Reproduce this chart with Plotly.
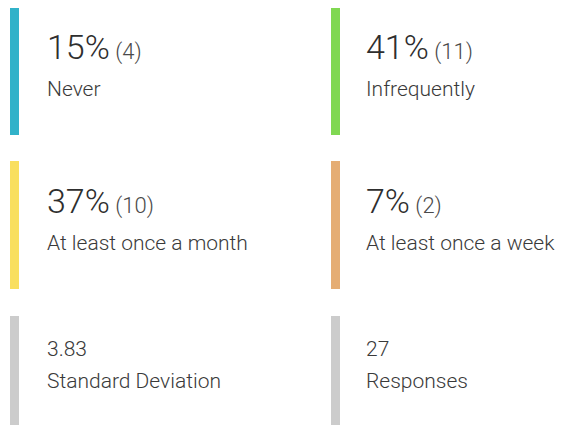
import plotly.graph_objects as go

# ---- data ----
categories = ["Never", "Infrequently", "At least once a month", "At least once a week"]
percents = [15, 41, 37, 7]
counts = [4, 11, 10, 2]
colors = ["#31b2c9", "#80d852", "#f9df5e", "#e5ad74"]
stat_labels = ["Standard Deviation", "Responses"]
stat_values = ["3.83", "27"]
stat_color = "#cccccc"

# figure fits inside the 566x425 window with the page's 8px body margin
W, H = 558, 417
col_x = [2, 323]
row_top = [-1, 153, 308]
row_h = [128, 128, 112]
bar_w = 9
text_dx = [35, 33]
FONT = "Roboto"
LABEL_SIZE = 21

fig = go.Figure()
shapes = []
annotations = []

def card(i_col, i_row, color):
    x0 = col_x[i_col]
    y0 = row_top[i_row]
    shapes.append(dict(type="rect", xref="x", yref="y", x0=x0, x1=x0 + bar_w,
                       y0=y0, y1=y0 + row_h[i_row], fillcolor=color, line=dict(width=0),
                       layer="below"))

for i, (cat, p, c, col) in enumerate(zip(categories, percents, counts, colors)):
    ci, ri = i % 2, i // 2
    card(ci, ri, col)
    x = col_x[ci] + text_dx[ci]
    y0 = row_top[ri]
    annotations.append(dict(
        x=x, y=y0 + 40, xref="x", yref="y", xanchor="left", yanchor="middle",
        text=f"{p}%<span style='font-size:22px;color:#4a4a4a'> ({c})</span>",
        showarrow=False, font=dict(family=FONT, size=34, color="#2e2e2e", weight=300)))
    annotations.append(dict(
        x=x, y=y0 + 82, xref="x", yref="y", xanchor="left", yanchor="middle",
        text=cat, showarrow=False,
        font=dict(family=FONT, size=LABEL_SIZE, color="#3a3a3a", weight=300)))

for j, (lab, val) in enumerate(zip(stat_labels, stat_values)):
    card(j, 2, stat_color)
    x = col_x[j] + text_dx[j]
    y0 = row_top[2]
    annotations.append(dict(
        x=x, y=y0 + 33, xref="x", yref="y", xanchor="left", yanchor="middle",
        text=val, showarrow=False,
        font=dict(family=FONT, size=LABEL_SIZE, color="#3a3a3a", weight=300)))
    annotations.append(dict(
        x=x, y=y0 + 65, xref="x", yref="y", xanchor="left", yanchor="middle",
        text=lab, showarrow=False,
        font=dict(family=FONT, size=LABEL_SIZE, color="#3a3a3a", weight=300)))

fig.update_layout(
    width=W, height=H,
    margin=dict(l=0, r=0, t=0, b=0),
    paper_bgcolor="white", plot_bgcolor="white",
    xaxis=dict(range=[0, W], visible=False, fixedrange=True),
    yaxis=dict(range=[H, 0], visible=False, fixedrange=True),
    shapes=shapes, annotations=annotations, showlegend=False,
)
fig.write_html(
    "out.html",
    post_script="document.documentElement.style.overflow='hidden';document.body.style.overflow='hidden';",
)
